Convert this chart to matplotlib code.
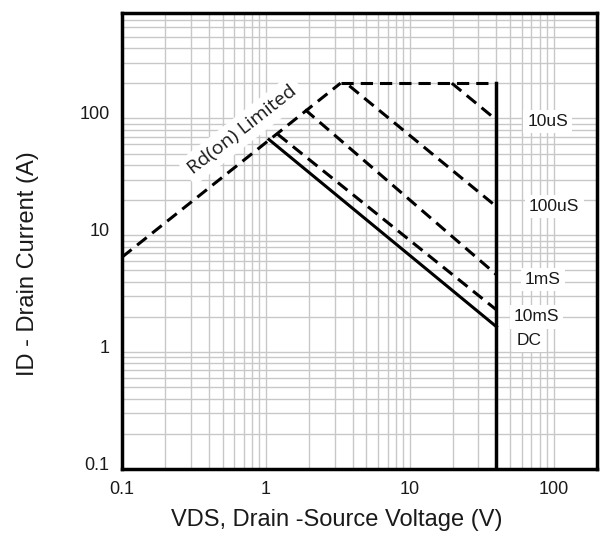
import numpy as np
import matplotlib
matplotlib.use("Agg")
import matplotlib.pyplot as plt
import matplotlib.transforms as mtransforms
from matplotlib.ticker import LogLocator, FixedLocator, FixedFormatter

plt.rcParams['font.family'] = ['Liberation Sans', 'DejaVu Sans']

# safe operating area boundaries (VDS in V, ID in A)
rdson_v = [0.1, 3.3]
rdson_i = [6.5, 200]
top_v = [3.3, 40]
top_i = [200, 200]
us10_v = [19.6, 40]
us10_i = [200, 97]
us100_v = [3.8, 40]
us100_i = [190, 17.6]
ms1_v = [1.87, 40]
ms1_i = [119, 4.6]
ms10_v = [1.21, 40]
ms10_i = [73, 2.3]
dc_v = [1.05, 40]
dc_i = [66, 1.65]
vmax_v = [40, 40]
vmax_i = [200, 0.1]

curve_labels = ["10uS", "100uS", "1mS", "10mS", "DC"]
label_v = [91, 101, 84, 76, 68]
label_i = [94, 17.6, 4.2, 2.0, 1.27]

x_ticks = [0.1, 1, 10, 100]
x_ticklabels = ["0.1", "1", "10", "100"]
y_ticks = [0.1, 1, 10, 100]
y_ticklabels = ["0.1", "1", "10", "100"]

fig = plt.figure(figsize=(6.02, 5.36), dpi=100)
ax = fig.add_axes([0.2027, 0.125, 0.789, 0.851])
ax.set_xscale('log')
ax.set_yscale('log')
ax.set_xlim(0.1, 200)
ax.set_ylim(0.1, 800)

ax.xaxis.set_major_locator(FixedLocator(x_ticks))
ax.xaxis.set_major_formatter(FixedFormatter(x_ticklabels))
ax.yaxis.set_major_locator(FixedLocator(y_ticks))
ax.yaxis.set_major_formatter(FixedFormatter(y_ticklabels))
ax.xaxis.set_minor_locator(LogLocator(base=10, subs=np.arange(2, 10), numticks=20))
ax.yaxis.set_minor_locator(LogLocator(base=10, subs=np.arange(2, 10), numticks=20))
ax.xaxis.set_minor_formatter(plt.NullFormatter())
ax.yaxis.set_minor_formatter(plt.NullFormatter())
ax.grid(True, which='both', color='#c8c8c8', linewidth=1.0)
ax.set_axisbelow(True)
ax.tick_params(which='both', length=0, labelsize=13, colors='#1a1a1a')
ax.tick_params(axis='x', pad=9)
ax.tick_params(axis='y', pad=9)

# y tick labels sit slightly above their gridlines
offset = mtransforms.ScaledTranslation(0, 6 / 100, fig.dpi_scale_trans)
for lab in ax.get_yticklabels():
    lab.set_transform(lab.get_transform() + offset)

for s in ax.spines.values():
    s.set_linewidth(2.5)
    s.set_color('black')

dash = dict(color='black', linewidth=2.2, linestyle=(0, (4, 2.3)))
ax.plot(rdson_v, rdson_i, **dash)
ax.plot(top_v, top_i, **dash)
ax.plot(us10_v, us10_i, **dash)
ax.plot(us100_v, us100_i, **dash)
ax.plot(ms1_v, ms1_i, **dash)
ax.plot(ms10_v, ms10_i, **dash)
ax.plot(dc_v, dc_i, color='black', linewidth=2.2)
ax.plot(vmax_v, vmax_i, color='black', linewidth=2.5)

for txt, lx, ly in zip(curve_labels, label_v, label_i):
    ax.text(lx, ly, txt, fontsize=12.5, color='#1a1a1a', ha='center', va='center',
            bbox=dict(facecolor='white', edgecolor='none', pad=3))

ax.text(0.69, 80, "Rd(on) Limited", fontsize=14, rotation=38, rotation_mode='anchor',
        ha='center', va='center', color='#1a1a1a', family=['Open Sans', 'DejaVu Sans'],
        bbox=dict(facecolor='white', edgecolor='none', pad=4))

ax.set_xlabel("VDS, Drain -Source Voltage (V)", fontsize=17, color='#1a1a1a')
ax.set_ylabel("ID - Drain Current (A)", fontsize=17, color='#1a1a1a')
ax.xaxis.set_label_coords(0.453, -0.112)
ax.yaxis.set_label_coords(-0.198, 0.45)
ax.xaxis.label.set_va('center')
ax.yaxis.label.set_va('center')

fig.savefig("out.png", dpi=100)
